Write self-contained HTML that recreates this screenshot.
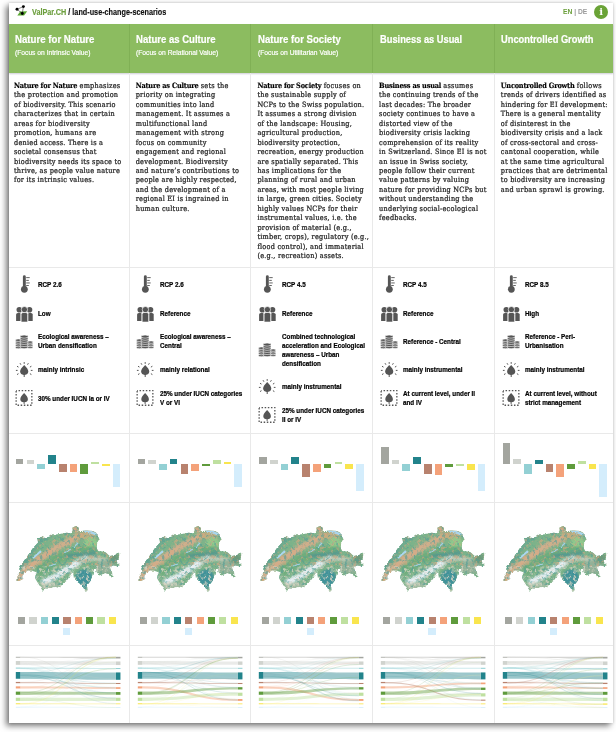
<!DOCTYPE html>
<html lang="en"><head><meta charset="utf-8"><title>ValPar.CH / land-use-change-scenarios</title>
<style>
html,body{margin:0;padding:0;background:#fff;}
body{width:616px;height:732px;position:relative;overflow:hidden;font-family:"Liberation Sans",sans-serif;}
#card{position:absolute;left:8.8px;top:2.8px;width:604.2px;height:720.2px;background:#fff;box-shadow:-3px 3px 6px rgba(0,0,0,.5),0 0 3px rgba(0,0,0,.18);}
.abs{position:absolute}
#band{position:absolute;left:8.8px;top:23.8px;width:604.2px;height:48.8px;background:#8cbc60;box-shadow:0 1px 1.5px rgba(60,60,90,.25);}
.vline{position:absolute;width:1px;background:#e9e9e9;top:72.6px;height:650.4px}
.vlineg{position:absolute;width:1px;background:#80b055;top:23.8px;height:48.8px}
.hline{position:absolute;left:8.8px;width:604.2px;height:1px;background:#e9e9e9}
.sx{display:inline-block;transform-origin:0 50%;white-space:nowrap}
.hd{position:absolute;top:32.5px;color:#fff}
.hd .t{font-weight:bold;font-size:10.5px;line-height:13px;-webkit-text-stroke:.2px #fff}
.hd .s{font-size:7px;line-height:9px;margin-top:2.6px;-webkit-text-stroke:.18px #fff}
.desc{position:absolute;top:80.9px;width:118px;font-family:"DejaVu Serif Condensed","DejaVu Serif","Liberation Serif",serif;font-stretch:condensed;font-size:7.3px;line-height:9.46px;color:#1a1a1a;letter-spacing:.22px;white-space:nowrap;-webkit-text-stroke:.22px #222}
.desc b{letter-spacing:-.2px;color:#000;-webkit-text-stroke:.15px #000}
.prm{position:absolute;top:275.2px;width:112px}
.row{display:flex;align-items:center;margin-bottom:9.4px;min-height:19px}
.ic{width:19px;height:19px;flex:none;display:block}
.row .tx{margin-left:4.7px;font-weight:bold;font-size:7px;line-height:9px;color:#000;white-space:nowrap;-webkit-text-stroke:.22px #000}
.bar{position:absolute;width:7.7px}
.sq{position:absolute;width:7.2px;height:7.2px}
</style></head><body>
<div id="card"></div>
<svg width="0" height="0" style="position:absolute"><defs>
<clipPath id="chclip"><polygon points="0.0,54.5 1.5,52.0 3.4,46.0 3.4,42.6 7.0,36.0 10.7,31.2 13.0,27.8 17.0,22.0 22.1,16.4 21.5,13.0 24.4,10.5 27.8,11.9 30.0,11.5 33.5,10.7 36.9,7.9 40.0,8.5 43.7,7.9 47.0,7.5 50.5,6.8 55.1,7.3 56.8,3.9 56.2,1.7 59.6,0.0 63.3,2.0 62.5,5.1 66.0,5.0 69.8,4.5 76.7,5.1 80.0,6.5 81.2,8.5 83.5,13.6 81.2,16.4 80.6,22.1 82.3,25.0 89.2,26.1 93.7,30.1 99.4,28.9 101.7,26.1 103.4,27.8 102.8,32.3 100.5,35.7 103.9,39.2 100.5,40.3 97.1,39.2 93.7,41.4 96.0,46.0 96.5,50.5 94.8,51.7 92.6,48.2 89.2,47.1 83.5,49.4 80.6,46.0 80.1,41.4 77.8,43.7 76.7,48.2 74.4,55.1 71.0,59.6 71.5,64.2 69.8,65.9 68.1,63.0 66.4,59.6 61.9,56.2 57.9,51.7 57.3,48.2 57.3,44.8 50.5,55.1 47.1,57.3 43.7,61.9 39.2,60.7 32.3,61.9 26.7,64.7 24.4,60.7 22.1,57.3 19.3,52.8 19.3,48.2 21.0,46.5 16.4,44.8 11.9,44.3 8.5,47.1 6.2,50.5 7.3,52.8 5.1,53.9 2.8,55.1"/></clipPath>
<filter id="bl" x="-20%" y="-20%" width="140%" height="140%"><feGaussianBlur stdDeviation="1.3"/></filter>
<filter id="bl2" x="-20%" y="-20%" width="140%" height="140%"><feGaussianBlur stdDeviation=".6"/></filter>
<filter id="rough" x="-8%" y="-8%" width="116%" height="116%" color-interpolation-filters="sRGB">
 <feTurbulence type="fractalNoise" baseFrequency=".38" numOctaves="2" seed="4" result="n"/>
 <feDisplacementMap in="SourceGraphic" in2="n" scale="3" xChannelSelector="R" yChannelSelector="G" result="d"/>
 <feGaussianBlur in="d" stdDeviation=".5"/>
</filter>
<filter id="speck" x="0" y="0" width="100%" height="100%" color-interpolation-filters="sRGB">
 <feTurbulence type="fractalNoise" baseFrequency=".3" numOctaves="2" seed="11" result="n"/>
 <feColorMatrix in="n" type="matrix" values="0 0 0 0 0  0 0 0 0 0  0 0 0 0 0  5 0 0 0 -2.55" result="a"/>
 <feComposite in="SourceGraphic" in2="a" operator="in"/>
</filter>
<filter id="speck2" x="0" y="0" width="100%" height="100%" color-interpolation-filters="sRGB">
 <feTurbulence type="fractalNoise" baseFrequency=".33" numOctaves="2" seed="23" result="n"/>
 <feColorMatrix in="n" type="matrix" values="0 0 0 0 0  0 0 0 0 0  0 0 0 0 0  0 5 0 0 -2.65" result="a"/>
 <feComposite in="SourceGraphic" in2="a" operator="in"/>
</filter>
<g id="chmap">
 <g filter="url(#rough)"><g clip-path="url(#chclip)">
  <rect x="-2" y="-2" width="110" height="72" fill="#7db38a"/>
  <g filter="url(#bl)">
   <path d="M-1,49 L20,13 L34,6" stroke="#69a890" stroke-width="10" fill="none"/>
   <path d="M2,53.5 L9.5,44 L24,32.5 L41,21 L58,13 L64,9" stroke="#dcae8c" stroke-width="6.5" fill="none" opacity=".88"/><ellipse cx="59.5" cy="3.5" rx="3" ry="2.5" fill="#d9a884"/>
   <path d="M60,10 L79,9" stroke="#c3ad80" stroke-width="7" fill="none"/>
   <ellipse cx="75" cy="17" rx="7" ry="6" fill="#8fc98c"/>
   <path d="M22,45 L40,33 L62,25 L80,25" stroke="#6fad7b" stroke-width="9" fill="none"/>
   <path d="M50,30 L80,27" stroke="#56998c" stroke-width="4" fill="none"/>
   <path d="M26,57 L40,50.5 L52,42.5 L63,36 L72,32" stroke="#e6eff3" stroke-width="6" fill="none"/>
   <path d="M62,36 L78,32 L92,35" stroke="#bccbb8" stroke-width="4.5" fill="none"/>
   <path d="M24,61 L44,59" stroke="#a5bda2" stroke-width="5" fill="none"/>
   <ellipse cx="68" cy="53" rx="8.5" ry="10" fill="#41929a"/>
   <ellipse cx="90" cy="41" rx="10" ry="7" fill="#93b198"/>
   <ellipse cx="98" cy="33" rx="5" ry="5" fill="#6d9a7c"/>
   <ellipse cx="3.5" cy="53.5" rx="4" ry="2.2" fill="#e0a77c"/>
  </g>
  <g filter="url(#speck)"><rect x="0" y="0" width="104" height="40" fill="#dba682" opacity=".6"/><rect x="0" y="40" width="104" height="26" fill="#d8d3c3" opacity=".8"/></g>
  <g filter="url(#speck2)"><rect x="0" y="0" width="104" height="66" fill="#559e96" opacity=".65"/></g>
  <g filter="url(#bl2)">
   <path d="M5.5,52.5 Q7,46 13,45 Q18,45 20.5,47.5 Q16,47.5 12,47.5 Q8.5,49 7.5,52.5Z" fill="#bfe3f6"/>
   <path d="M17,32 L25,25" stroke="#a9d6ee" stroke-width="2"/>
   <path d="M67,5.5 Q74,5 80.5,8.5" stroke="#a9d6ee" stroke-width="2.4" fill="none"/>
   <path d="M48,27 L55,23 M58,21 L62,17" stroke="#9fd0e4" stroke-width="1.2" fill="none"/>
   <path d="M33,40 L40,38" stroke="#9fd0e4" stroke-width="1.2"/>
  </g>
 </g></g>
</g></defs></svg>

<svg class="abs" style="left:14px;top:4.4px" width="16" height="14" viewBox="14 4 16 14"><polygon points="17.3,15.6 20.2,11.4 27.2,11.3 24.1,15.4" fill="#5aa832"/><g stroke="#222" stroke-width=".55"><line x1="17" y1="9.3" x2="23.4" y2="6.6"/><line x1="23.4" y1="6.6" x2="22.3" y2="13.5"/><line x1="17" y1="9.3" x2="22.3" y2="13.5"/></g><circle cx="17" cy="9.3" r="1.45"/><circle cx="23.4" cy="6.6" r="1.45"/><circle cx="22.3" cy="13.5" r="1.45"/></svg>
<div class="abs" style="left:32.3px;top:6.6px;font-weight:bold;font-size:8.7px;line-height:11px;color:#111;-webkit-text-stroke:.15px"><span class="sx" style="transform:scaleX(.835)"><span style="color:#6d9f3f">ValPar.CH</span> / land-use-change-scenarios</span></div>
<div class="abs" style="left:562.6px;top:6.4px;font-weight:bold;font-size:7.8px;line-height:11px;color:#9a9a9a"><span class="sx" style="transform:scaleX(.86)"><span style="color:#6a9f3a">EN</span> | DE</span></div>
<div class="abs" style="left:594px;top:4.9px;width:14.2px;height:14.2px;border-radius:50%;background:#6aa336;color:#fff;font-family:'DejaVu Serif','Liberation Serif',serif;font-weight:bold;font-size:10px;line-height:14.2px;text-align:center">i</div>
<div id="band"></div>
<div class="vlineg" style="left:128.7px"></div>
<div class="vline" style="left:128.7px"></div>
<div class="vlineg" style="left:250.4px"></div>
<div class="vline" style="left:250.4px"></div>
<div class="vlineg" style="left:372.1px"></div>
<div class="vline" style="left:372.1px"></div>
<div class="vlineg" style="left:493.8px"></div>
<div class="vline" style="left:493.8px"></div>
<div class="hline" style="top:267.1px"></div>
<div class="hline" style="top:433.4px"></div>
<div class="hline" style="top:501.9px"></div>
<div class="hline" style="top:644.8px"></div>
<div class="hd" style="left:14.6px"><div class="t"><span class="sx" style="transform:scaleX(0.92)">Nature for Nature</span></div><div class="s"><span class="sx" style="transform:scaleX(.957)">(Focus on Intrinsic Value)</span></div></div>
<div class="desc" style="left:14.0px"><b>Nature for Nature</b> emphasizes<br>the protection and promotion<br>of biodiversity. This scenario<br>characterizes that in certain<br>areas for biodiversity<br>promotion, humans are<br>denied access. There is a<br>societal consensus that<br>biodiversity needs its space to<br>thrive, as people value nature<br>for its intrinsic values.</div>
<div class="prm" style="left:14.7px">
<div class="row"><svg class="ic" viewBox="0 0 19 19"><g fill="#555"><rect x="7.9" y=".2" width="2.9" height="13" rx="1.45"/><circle cx="9.35" cy="14.3" r="3.4"/><rect x="11.2" y="2.2" width="3.5" height=".9"/><rect x="11.2" y="4.9" width="2.6" height=".9"/><rect x="11.2" y="7.5" width="3.5" height=".9"/><rect x="11.2" y="10.1" width="2.6" height=".9"/></g></svg><div class="tx"><span class="sx" style="transform:scaleX(.9)">RCP 2.6</span></div></div>
<div class="row"><svg class="ic" viewBox="0 0 19 19"><g fill="#555"><circle cx="4.3" cy="5.8" r="2.8"/><circle cx="14.5" cy="5.8" r="2.8"/><path d="M1.1 17V10.6Q1.1 8.9 2.8 8.9H4.6Q5.6 8.9 5.6 10V17Z"/><path d="M17.7 17V10.6Q17.7 8.9 16 8.9H14.2Q13.2 8.9 13.2 10V17Z"/><g stroke="#fff" stroke-width=".7"><circle cx="9.4" cy="5.6" r="3.15"/><path d="M6.1 18.1V10.4Q6.1 8.5 8 8.5H10.8Q12.7 8.5 12.7 10.4V18.1Z"/></g></g></svg><div class="tx"><span class="sx" style="transform:scaleX(.9)">Low</span></div></div>
<div class="row"><svg class="ic" viewBox="0 0 19 19"><g fill="#555" stroke="#fff" stroke-width=".6"><ellipse cx="3.3" cy="15.40" rx="2.9" ry="1.25"/><ellipse cx="3.3" cy="13.60" rx="2.9" ry="1.25"/><ellipse cx="3.3" cy="11.80" rx="2.9" ry="1.25"/><ellipse cx="3.3" cy="10.00" rx="2.9" ry="1.25"/><ellipse cx="3.3" cy="8.20" rx="2.9" ry="1.25"/><ellipse cx="15.1" cy="15.35" rx="2.8" ry="1.2"/><ellipse cx="15.1" cy="13.60" rx="2.8" ry="1.2"/><ellipse cx="15.1" cy="11.85" rx="2.8" ry="1.2"/><ellipse cx="15.1" cy="10.10" rx="2.8" ry="1.2"/><ellipse cx="9.1" cy="15.10" rx="3.9" ry="1.55"/><ellipse cx="9.1" cy="13.00" rx="3.9" ry="1.55"/><ellipse cx="9.1" cy="10.90" rx="3.9" ry="1.55"/><ellipse cx="9.1" cy="8.80" rx="3.9" ry="1.55"/><ellipse cx="9.1" cy="6.70" rx="3.9" ry="1.55"/><ellipse cx="9.1" cy="4.60" rx="3.9" ry="1.55"/></g></svg><div class="tx"><span class="sx" style="transform:scaleX(.9)">Ecological awareness –<br>Urban densification</span></div></div>
<div class="row"><svg class="ic" viewBox="0 0 19 19"><path d="M9.2 4.9C11.8 7.6 13.3 9.6 13.3 11.6C13.3 13.6 11.7 14.9 9.7 15V17H8.7V15C6.7 14.9 5.1 13.6 5.1 11.6C5.1 9.6 6.6 7.6 9.2 4.9Z" fill="#555"/><g stroke="#555" stroke-width="1"><line x1="3.48" y1="13.70" x2="2.01" y2="14.55"/><line x1="2.60" y1="10.40" x2="0.90" y2="10.40"/><line x1="3.48" y1="7.10" x2="2.01" y2="6.25"/><line x1="5.90" y1="4.68" x2="5.05" y2="3.21"/><line x1="9.20" y1="3.80" x2="9.20" y2="2.10"/><line x1="12.50" y1="4.68" x2="13.35" y2="3.21"/><line x1="14.92" y1="7.10" x2="16.39" y2="6.25"/><line x1="15.80" y1="10.40" x2="17.50" y2="10.40"/><line x1="14.92" y1="13.70" x2="16.39" y2="14.55"/></g></svg><div class="tx"><span class="sx" style="transform:scaleX(.9)">mainly intrinsic</span></div></div>
<div class="row"><svg class="ic" viewBox="0 0 19 19"><rect x="1.15" y="1.55" width="15.7" height="14.7" fill="none" stroke="#555" stroke-width="1.3" stroke-dasharray="1.5 1.64" stroke-dashoffset=".75"/><path d="M9.1 3.9C11.5 6.4 12.9 8.3 12.9 10.2C12.9 12 11.4 13.2 9.55 13.3V14.9H8.65V13.3C6.8 13.2 5.3 12 5.3 10.2C5.3 8.3 6.7 6.4 9.1 3.9Z" fill="#555"/></svg><div class="tx"><span class="sx" style="transform:scaleX(.9)">30% under IUCN Ia or IV</span></div></div>
</div>
<div class="bar" style="left:15.80px;top:458.8px;height:5.1px;background:#a3a59f"></div>
<div class="bar" style="left:26.56px;top:460.3px;height:3.6px;background:#d0d3ce"></div>
<div class="bar" style="left:37.32px;top:463.9px;height:5.1px;background:#93d0d4"></div>
<div class="bar" style="left:48.08px;top:455.3px;height:8.6px;background:#22838b"></div>
<div class="bar" style="left:58.84px;top:463.9px;height:8.4px;background:#b8826e"></div>
<div class="bar" style="left:69.60px;top:463.9px;height:8.2px;background:#f4a27a"></div>
<div class="bar" style="left:80.36px;top:463.9px;height:9.9px;background:#5f9b3c"></div>
<div class="bar" style="left:91.12px;top:462.1px;height:1.8px;background:#bfe0a0"></div>
<div class="bar" style="left:101.88px;top:463.9px;height:1.9px;background:#f9e54e"></div>
<div class="bar" style="left:112.64px;top:463.9px;height:23.4px;background:#d4edfc"></div>
<div class="sq" style="left:18.10px;top:617.1px;background:#a3a59f"></div>
<div class="sq" style="left:29.44px;top:617.1px;background:#d0d3ce"></div>
<div class="sq" style="left:40.78px;top:617.1px;background:#93d0d4"></div>
<div class="sq" style="left:52.12px;top:617.1px;background:#22838b"></div>
<div class="sq" style="left:63.46px;top:617.1px;background:#b8826e"></div>
<div class="sq" style="left:74.80px;top:617.1px;background:#f4a27a"></div>
<div class="sq" style="left:86.14px;top:617.1px;background:#5f9b3c"></div>
<div class="sq" style="left:97.48px;top:617.1px;background:#bfe0a0"></div>
<div class="sq" style="left:108.82px;top:617.1px;background:#f9e54e"></div>
<div class="sq" style="left:63.30px;top:628.1px;background:#d4edfc"></div>
<svg class="abs" style="left:16.3px;top:526.3px;overflow:visible" width="104" height="66" viewBox="0 0 104 66"><use href="#chmap"/></svg>
<svg class="abs" style="left:8.0px;top:645px" width="121" height="78" viewBox="0 0 121 78"><path d="M12.3,11.81C60.1,11.81 60.1,11.81 107.9,11.81L107.9,13.50C60.1,13.50 60.1,12.66 12.3,12.66Z" fill="#a3a59f" opacity="0.45"/><path d="M12.3,16.03C60.1,16.03 60.1,16.46 107.9,16.46L107.9,20.04C60.1,20.04 60.1,19.83 12.3,19.83Z" fill="#d0d3ce" opacity="0.45"/><path d="M12.3,22.57C60.1,22.57 60.1,23.00 107.9,23.00L107.9,24.05C60.1,24.05 60.1,23.63 12.3,23.63Z" fill="#93d0d4" opacity="0.45"/><path d="M12.3,27.00C60.1,27.00 60.1,27.43 107.9,27.43L107.9,34.81C60.1,34.81 60.1,33.76 12.3,33.76Z" fill="#22838b" opacity="0.45"/><path d="M12.3,36.92C60.1,36.92 60.1,37.97 107.9,37.97L107.9,39.03C60.1,39.03 60.1,38.19 12.3,38.19Z" fill="#b8826e" opacity="0.45"/><path d="M12.3,41.35C60.1,41.35 60.1,42.19 107.9,42.19L107.9,43.88C60.1,43.88 60.1,43.46 12.3,43.46Z" fill="#f4a27a" opacity="0.45"/><path d="M12.3,46.62C60.1,46.62 60.1,47.05 107.9,47.05L107.9,49.79C60.1,49.79 60.1,49.79 12.3,49.79Z" fill="#5f9b3c" opacity="0.45"/><path d="M12.3,52.74C60.1,52.74 60.1,52.74 107.9,52.74L107.9,55.91C60.1,55.91 60.1,55.91 12.3,55.91Z" fill="#bfe0a0" opacity="0.45"/><path d="M12.3,58.23C60.1,58.23 60.1,58.44 107.9,58.44L107.9,59.14C60.1,59.14 60.1,59.28 12.3,59.28Z" fill="#f9e54e" opacity="0.45"/><path d="M12.3,61.81C60.1,61.81 60.1,62.03 107.9,62.03L107.9,62.73C60.1,62.73 60.1,62.66 12.3,62.66Z" fill="#d4edfc" opacity="0.45"/><path d="M12.3,19.32C60.1,19.32 60.1,12.27 107.9,12.27" stroke="#d0d3ce" stroke-width="0.36" fill="none" opacity=".3"/><path d="M12.3,23.27C60.1,23.27 60.1,13.41 107.9,13.41" stroke="#93d0d4" stroke-width="0.31" fill="none" opacity=".3"/><path d="M12.3,28.19C60.1,28.19 60.1,13.12 107.9,13.12" stroke="#22838b" stroke-width="0.36" fill="none" opacity=".3"/><path d="M12.3,37.20C60.1,37.20 60.1,12.73 107.9,12.73" stroke="#b8826e" stroke-width="0.27" fill="none" opacity=".3"/><path d="M12.3,43.24C60.1,43.24 60.1,12.22 107.9,12.22" stroke="#f4a27a" stroke-width="0.34" fill="none" opacity=".3"/><path d="M12.3,47.91C60.1,47.91 60.1,12.08 107.9,12.08" stroke="#5f9b3c" stroke-width="0.57" fill="none" opacity=".3"/><path d="M12.3,54.31C60.1,54.31 60.1,13.32 107.9,13.32" stroke="#bfe0a0" stroke-width="0.51" fill="none" opacity=".3"/><path d="M12.3,59.27C60.1,59.27 60.1,12.27 107.9,12.27" stroke="#f9e54e" stroke-width="0.42" fill="none" opacity=".3"/><path d="M12.3,30.38C60.1,30.38 60.1,38.15 107.9,38.15" stroke="#22838b" stroke-width="0.49" fill="none" opacity=".3"/><path d="M12.3,33.07C60.1,33.07 60.1,42.42 107.9,42.42" stroke="#22838b" stroke-width="0.44" fill="none" opacity=".3"/><path d="M12.3,29.36C60.1,29.36 60.1,48.11 107.9,48.11" stroke="#22838b" stroke-width="0.50" fill="none" opacity=".3"/><path d="M12.3,30.78C60.1,30.78 60.1,53.05 107.9,53.05" stroke="#22838b" stroke-width="0.59" fill="none" opacity=".3"/><path d="M12.3,23.45C60.1,23.45 60.1,43.67 107.9,43.67" stroke="#93d0d4" stroke-width="0.40" fill="none" opacity=".3"/><path d="M12.3,22.64C60.1,22.64 60.1,48.01 107.9,48.01" stroke="#93d0d4" stroke-width="0.30" fill="none" opacity=".3"/><path d="M12.3,23.22C60.1,23.22 60.1,55.38 107.9,55.38" stroke="#93d0d4" stroke-width="0.53" fill="none" opacity=".3"/><path d="M12.3,16.56C60.1,16.56 60.1,33.79 107.9,33.79" stroke="#d0d3ce" stroke-width="0.52" fill="none" opacity=".3"/><path d="M12.3,19.54C60.1,19.54 60.1,47.99 107.9,47.99" stroke="#d0d3ce" stroke-width="0.34" fill="none" opacity=".3"/><path d="M12.3,19.03C60.1,19.03 60.1,54.19 107.9,54.19" stroke="#d0d3ce" stroke-width="0.36" fill="none" opacity=".3"/><path d="M12.3,18.01C60.1,18.01 60.1,58.77 107.9,58.77" stroke="#d0d3ce" stroke-width="0.51" fill="none" opacity=".3"/><path d="M12.3,58.57C60.1,58.57 60.1,11.87 107.9,11.87" stroke="#f9e54e" stroke-width="0.32" fill="none" opacity=".3"/><path d="M12.3,55.61C60.1,55.61 60.1,38.58 107.9,38.58" stroke="#bfe0a0" stroke-width="0.47" fill="none" opacity=".3"/><path d="M12.3,52.82C60.1,52.82 60.1,16.87 107.9,16.87" stroke="#bfe0a0" stroke-width="0.35" fill="none" opacity=".3"/><path d="M12.3,55.44C60.1,55.44 60.1,23.26 107.9,23.26" stroke="#bfe0a0" stroke-width="0.35" fill="none" opacity=".3"/><path d="M12.3,61.89C60.1,61.89 60.1,18.60 107.9,18.60" stroke="#d4edfc" stroke-width="0.44" fill="none" opacity=".3"/><path d="M12.3,23.61C60.1,23.61 60.1,58.51 107.9,58.51" stroke="#93d0d4" stroke-width="0.54" fill="none" opacity=".3"/><path d="M12.3,11.95C60.1,11.95 60.1,54.25 107.9,54.25" stroke="#a3a59f" stroke-width="0.38" fill="none" opacity=".3"/><path d="M12.3,54.01C60.1,54.01 60.1,62.52 107.9,62.52" stroke="#bfe0a0" stroke-width="0.60" fill="none" opacity=".3"/><path d="M12.3,61.97C60.1,61.97 60.1,23.62 107.9,23.62" stroke="#d4edfc" stroke-width="0.40" fill="none" opacity=".3"/><path d="M12.3,62.65C60.1,62.65 60.1,43.35 107.9,43.35" stroke="#d4edfc" stroke-width="0.36" fill="none" opacity=".3"/><path d="M12.3,49.67C60.1,49.67 60.1,23.91 107.9,23.91" stroke="#5f9b3c" stroke-width="0.51" fill="none" opacity=".3"/><rect x="7.81" y="11.81" width="4.5" height="0.84" fill="#a3a59f"/><rect x="107.95" y="11.81" width="4.5" height="1.69" fill="#a3a59f"/><rect x="7.81" y="16.03" width="4.5" height="3.80" fill="#d0d3ce"/><rect x="107.95" y="16.46" width="4.5" height="3.59" fill="#d0d3ce"/><rect x="7.81" y="22.57" width="4.5" height="1.05" fill="#93d0d4"/><rect x="107.95" y="23.00" width="4.5" height="1.05" fill="#93d0d4"/><rect x="7.81" y="27.00" width="4.5" height="6.75" fill="#22838b"/><rect x="107.95" y="27.43" width="4.5" height="7.38" fill="#22838b"/><rect x="7.81" y="36.92" width="4.5" height="1.27" fill="#b8826e"/><rect x="107.95" y="37.97" width="4.5" height="1.05" fill="#b8826e"/><rect x="7.81" y="41.35" width="4.5" height="2.11" fill="#f4a27a"/><rect x="107.95" y="42.19" width="4.5" height="1.69" fill="#f4a27a"/><rect x="7.81" y="46.62" width="4.5" height="3.16" fill="#5f9b3c"/><rect x="107.95" y="47.05" width="4.5" height="2.74" fill="#5f9b3c"/><rect x="7.81" y="52.74" width="4.5" height="3.16" fill="#bfe0a0"/><rect x="107.95" y="52.74" width="4.5" height="3.16" fill="#bfe0a0"/><rect x="7.81" y="58.23" width="4.5" height="1.05" fill="#f9e54e"/><rect x="107.95" y="58.44" width="4.5" height="0.80" fill="#f9e54e"/><rect x="7.81" y="61.81" width="4.5" height="0.84" fill="#d4edfc"/><rect x="107.95" y="62.03" width="4.5" height="0.80" fill="#d4edfc"/></svg>
<div class="hd" style="left:136.3px"><div class="t"><span class="sx" style="transform:scaleX(0.91)">Nature as Culture</span></div><div class="s"><span class="sx" style="transform:scaleX(.957)">(Focus on Relational Value)</span></div></div>
<div class="desc" style="left:135.7px"><b>Nature as Culture</b> sets the<br>priority on integrating<br>communities into land<br>management. It assumes a<br>multifunctional land<br>management with strong<br>focus on community<br>engagement and regional<br>development. Biodiversity<br>and nature’s contributions to<br>people are highly respected,<br>and the development of a<br>regional EI is ingrained in<br>human culture.</div>
<div class="prm" style="left:136.4px">
<div class="row"><svg class="ic" viewBox="0 0 19 19"><g fill="#555"><rect x="7.9" y=".2" width="2.9" height="13" rx="1.45"/><circle cx="9.35" cy="14.3" r="3.4"/><rect x="11.2" y="2.2" width="3.5" height=".9"/><rect x="11.2" y="4.9" width="2.6" height=".9"/><rect x="11.2" y="7.5" width="3.5" height=".9"/><rect x="11.2" y="10.1" width="2.6" height=".9"/></g></svg><div class="tx"><span class="sx" style="transform:scaleX(.9)">RCP 2.6</span></div></div>
<div class="row"><svg class="ic" viewBox="0 0 19 19"><g fill="#555"><circle cx="4.3" cy="5.8" r="2.8"/><circle cx="14.5" cy="5.8" r="2.8"/><path d="M1.1 17V10.6Q1.1 8.9 2.8 8.9H4.6Q5.6 8.9 5.6 10V17Z"/><path d="M17.7 17V10.6Q17.7 8.9 16 8.9H14.2Q13.2 8.9 13.2 10V17Z"/><g stroke="#fff" stroke-width=".7"><circle cx="9.4" cy="5.6" r="3.15"/><path d="M6.1 18.1V10.4Q6.1 8.5 8 8.5H10.8Q12.7 8.5 12.7 10.4V18.1Z"/></g></g></svg><div class="tx"><span class="sx" style="transform:scaleX(.9)">Reference</span></div></div>
<div class="row"><svg class="ic" viewBox="0 0 19 19"><g fill="#555" stroke="#fff" stroke-width=".6"><ellipse cx="3.3" cy="15.40" rx="2.9" ry="1.25"/><ellipse cx="3.3" cy="13.60" rx="2.9" ry="1.25"/><ellipse cx="3.3" cy="11.80" rx="2.9" ry="1.25"/><ellipse cx="3.3" cy="10.00" rx="2.9" ry="1.25"/><ellipse cx="3.3" cy="8.20" rx="2.9" ry="1.25"/><ellipse cx="15.1" cy="15.35" rx="2.8" ry="1.2"/><ellipse cx="15.1" cy="13.60" rx="2.8" ry="1.2"/><ellipse cx="15.1" cy="11.85" rx="2.8" ry="1.2"/><ellipse cx="15.1" cy="10.10" rx="2.8" ry="1.2"/><ellipse cx="9.1" cy="15.10" rx="3.9" ry="1.55"/><ellipse cx="9.1" cy="13.00" rx="3.9" ry="1.55"/><ellipse cx="9.1" cy="10.90" rx="3.9" ry="1.55"/><ellipse cx="9.1" cy="8.80" rx="3.9" ry="1.55"/><ellipse cx="9.1" cy="6.70" rx="3.9" ry="1.55"/><ellipse cx="9.1" cy="4.60" rx="3.9" ry="1.55"/></g></svg><div class="tx"><span class="sx" style="transform:scaleX(.9)">Ecological awareness –<br>Central</span></div></div>
<div class="row"><svg class="ic" viewBox="0 0 19 19"><path d="M9.2 4.9C11.8 7.6 13.3 9.6 13.3 11.6C13.3 13.6 11.7 14.9 9.7 15V17H8.7V15C6.7 14.9 5.1 13.6 5.1 11.6C5.1 9.6 6.6 7.6 9.2 4.9Z" fill="#555"/><g stroke="#555" stroke-width="1"><line x1="3.48" y1="13.70" x2="2.01" y2="14.55"/><line x1="2.60" y1="10.40" x2="0.90" y2="10.40"/><line x1="3.48" y1="7.10" x2="2.01" y2="6.25"/><line x1="5.90" y1="4.68" x2="5.05" y2="3.21"/><line x1="9.20" y1="3.80" x2="9.20" y2="2.10"/><line x1="12.50" y1="4.68" x2="13.35" y2="3.21"/><line x1="14.92" y1="7.10" x2="16.39" y2="6.25"/><line x1="15.80" y1="10.40" x2="17.50" y2="10.40"/><line x1="14.92" y1="13.70" x2="16.39" y2="14.55"/></g></svg><div class="tx"><span class="sx" style="transform:scaleX(.9)">mainly relational</span></div></div>
<div class="row"><svg class="ic" viewBox="0 0 19 19"><rect x="1.15" y="1.55" width="15.7" height="14.7" fill="none" stroke="#555" stroke-width="1.3" stroke-dasharray="1.5 1.64" stroke-dashoffset=".75"/><path d="M9.1 3.9C11.5 6.4 12.9 8.3 12.9 10.2C12.9 12 11.4 13.2 9.55 13.3V14.9H8.65V13.3C6.8 13.2 5.3 12 5.3 10.2C5.3 8.3 6.7 6.4 9.1 3.9Z" fill="#555"/></svg><div class="tx"><span class="sx" style="transform:scaleX(.9)">25% under IUCN categories<br>V or VI</span></div></div>
</div>
<div class="bar" style="left:137.50px;top:459.3px;height:4.6px;background:#a3a59f"></div>
<div class="bar" style="left:148.26px;top:460.3px;height:3.6px;background:#d0d3ce"></div>
<div class="bar" style="left:159.02px;top:463.9px;height:6.5px;background:#93d0d4"></div>
<div class="bar" style="left:169.78px;top:458.8px;height:5.1px;background:#22838b"></div>
<div class="bar" style="left:180.54px;top:463.9px;height:10.1px;background:#b8826e"></div>
<div class="bar" style="left:191.30px;top:463.9px;height:7.4px;background:#f4a27a"></div>
<div class="bar" style="left:202.06px;top:463.9px;height:2.3px;background:#5f9b3c"></div>
<div class="bar" style="left:212.82px;top:460.3px;height:3.6px;background:#bfe0a0"></div>
<div class="bar" style="left:223.58px;top:462.0px;height:1.9px;background:#f9e54e"></div>
<div class="bar" style="left:234.34px;top:463.9px;height:23.4px;background:#d4edfc"></div>
<div class="sq" style="left:139.80px;top:617.1px;background:#a3a59f"></div>
<div class="sq" style="left:151.14px;top:617.1px;background:#d0d3ce"></div>
<div class="sq" style="left:162.48px;top:617.1px;background:#93d0d4"></div>
<div class="sq" style="left:173.82px;top:617.1px;background:#22838b"></div>
<div class="sq" style="left:185.16px;top:617.1px;background:#b8826e"></div>
<div class="sq" style="left:196.50px;top:617.1px;background:#f4a27a"></div>
<div class="sq" style="left:207.84px;top:617.1px;background:#5f9b3c"></div>
<div class="sq" style="left:219.18px;top:617.1px;background:#bfe0a0"></div>
<div class="sq" style="left:230.52px;top:617.1px;background:#f9e54e"></div>
<div class="sq" style="left:185.00px;top:628.1px;background:#d4edfc"></div>
<svg class="abs" style="left:138.0px;top:526.3px;overflow:visible" width="104" height="66" viewBox="0 0 104 66"><use href="#chmap"/></svg>
<svg class="abs" style="left:129.7px;top:645px" width="121" height="78" viewBox="0 0 121 78"><path d="M12.3,11.81C60.1,11.81 60.1,11.81 107.9,11.81L107.9,13.29C60.1,13.29 60.1,12.66 12.3,12.66Z" fill="#a3a59f" opacity="0.45"/><path d="M12.3,16.03C60.1,16.03 60.1,16.46 107.9,16.46L107.9,19.83C60.1,19.83 60.1,19.83 12.3,19.83Z" fill="#d0d3ce" opacity="0.45"/><path d="M12.3,22.57C60.1,22.57 60.1,22.78 107.9,22.78L107.9,23.84C60.1,23.84 60.1,23.63 12.3,23.63Z" fill="#93d0d4" opacity="0.45"/><path d="M12.3,27.00C60.1,27.00 60.1,27.43 107.9,27.43L107.9,34.39C60.1,34.39 60.1,33.76 12.3,33.76Z" fill="#22838b" opacity="0.45"/><path d="M12.3,36.92C60.1,36.92 60.1,37.97 107.9,37.97L107.9,39.03C60.1,39.03 60.1,38.19 12.3,38.19Z" fill="#b8826e" opacity="0.45"/><path d="M12.3,41.35C60.1,41.35 60.1,54.01 107.9,54.01L107.9,55.91C60.1,55.91 60.1,43.46 12.3,43.46Z" fill="#f4a27a" opacity="0.45"/><path d="M12.3,46.62C60.1,46.62 60.1,42.19 107.9,42.19L107.9,44.51C60.1,44.51 60.1,49.79 12.3,49.79Z" fill="#5f9b3c" opacity="0.45"/><path d="M12.3,52.74C60.1,52.74 60.1,47.68 107.9,47.68L107.9,50.84C60.1,50.84 60.1,55.91 12.3,55.91Z" fill="#bfe0a0" opacity="0.45"/><path d="M12.3,58.23C60.1,58.23 60.1,58.44 107.9,58.44L107.9,59.28C60.1,59.28 60.1,59.28 12.3,59.28Z" fill="#f9e54e" opacity="0.45"/><path d="M12.3,61.81C60.1,61.81 60.1,62.03 107.9,62.03L107.9,62.73C60.1,62.73 60.1,62.66 12.3,62.66Z" fill="#d4edfc" opacity="0.45"/><path d="M12.3,16.54C60.1,16.54 60.1,12.86 107.9,12.86" stroke="#d0d3ce" stroke-width="0.25" fill="none" opacity=".3"/><path d="M12.3,23.06C60.1,23.06 60.1,12.53 107.9,12.53" stroke="#93d0d4" stroke-width="0.49" fill="none" opacity=".3"/><path d="M12.3,28.28C60.1,28.28 60.1,12.57 107.9,12.57" stroke="#22838b" stroke-width="0.59" fill="none" opacity=".3"/><path d="M12.3,37.89C60.1,37.89 60.1,12.43 107.9,12.43" stroke="#b8826e" stroke-width="0.38" fill="none" opacity=".3"/><path d="M12.3,42.18C60.1,42.18 60.1,13.28 107.9,13.28" stroke="#f4a27a" stroke-width="0.25" fill="none" opacity=".3"/><path d="M12.3,49.36C60.1,49.36 60.1,13.25 107.9,13.25" stroke="#5f9b3c" stroke-width="0.46" fill="none" opacity=".3"/><path d="M12.3,55.90C60.1,55.90 60.1,11.84 107.9,11.84" stroke="#bfe0a0" stroke-width="0.32" fill="none" opacity=".3"/><path d="M12.3,59.28C60.1,59.28 60.1,12.70 107.9,12.70" stroke="#f9e54e" stroke-width="0.45" fill="none" opacity=".3"/><path d="M12.3,27.29C60.1,27.29 60.1,38.13 107.9,38.13" stroke="#22838b" stroke-width="0.40" fill="none" opacity=".3"/><path d="M12.3,27.07C60.1,27.07 60.1,55.17 107.9,55.17" stroke="#22838b" stroke-width="0.54" fill="none" opacity=".3"/><path d="M12.3,29.61C60.1,29.61 60.1,42.37 107.9,42.37" stroke="#22838b" stroke-width="0.32" fill="none" opacity=".3"/><path d="M12.3,31.30C60.1,31.30 60.1,47.73 107.9,47.73" stroke="#22838b" stroke-width="0.38" fill="none" opacity=".3"/><path d="M12.3,23.23C60.1,23.23 60.1,54.25 107.9,54.25" stroke="#93d0d4" stroke-width="0.46" fill="none" opacity=".3"/><path d="M12.3,23.45C60.1,23.45 60.1,42.51 107.9,42.51" stroke="#93d0d4" stroke-width="0.39" fill="none" opacity=".3"/><path d="M12.3,23.24C60.1,23.24 60.1,48.66 107.9,48.66" stroke="#93d0d4" stroke-width="0.33" fill="none" opacity=".3"/><path d="M12.3,18.35C60.1,18.35 60.1,32.48 107.9,32.48" stroke="#d0d3ce" stroke-width="0.31" fill="none" opacity=".3"/><path d="M12.3,18.42C60.1,18.42 60.1,43.48 107.9,43.48" stroke="#d0d3ce" stroke-width="0.49" fill="none" opacity=".3"/><path d="M12.3,17.51C60.1,17.51 60.1,49.21 107.9,49.21" stroke="#d0d3ce" stroke-width="0.28" fill="none" opacity=".3"/><path d="M12.3,52.89C60.1,52.89 60.1,28.19 107.9,28.19" stroke="#bfe0a0" stroke-width="0.43" fill="none" opacity=".3"/><path d="M12.3,17.00C60.1,17.00 60.1,23.57 107.9,23.57" stroke="#d0d3ce" stroke-width="0.39" fill="none" opacity=".3"/><path d="M12.3,37.45C60.1,37.45 60.1,33.73 107.9,33.73" stroke="#b8826e" stroke-width="0.42" fill="none" opacity=".3"/><path d="M12.3,48.27C60.1,48.27 60.1,13.19 107.9,13.19" stroke="#5f9b3c" stroke-width="0.59" fill="none" opacity=".3"/><path d="M12.3,61.92C60.1,61.92 60.1,12.52 107.9,12.52" stroke="#d4edfc" stroke-width="0.48" fill="none" opacity=".3"/><path d="M12.3,58.88C60.1,58.88 60.1,47.91 107.9,47.91" stroke="#f9e54e" stroke-width="0.32" fill="none" opacity=".3"/><path d="M12.3,38.08C60.1,38.08 60.1,12.92 107.9,12.92" stroke="#b8826e" stroke-width="0.27" fill="none" opacity=".3"/><path d="M12.3,58.66C60.1,58.66 60.1,62.18 107.9,62.18" stroke="#f9e54e" stroke-width="0.27" fill="none" opacity=".3"/><rect x="7.81" y="11.81" width="4.5" height="0.84" fill="#a3a59f"/><rect x="107.95" y="11.81" width="4.5" height="1.48" fill="#a3a59f"/><rect x="7.81" y="16.03" width="4.5" height="3.80" fill="#d0d3ce"/><rect x="107.95" y="16.46" width="4.5" height="3.38" fill="#d0d3ce"/><rect x="7.81" y="22.57" width="4.5" height="1.05" fill="#93d0d4"/><rect x="107.95" y="22.78" width="4.5" height="1.05" fill="#93d0d4"/><rect x="7.81" y="27.00" width="4.5" height="6.75" fill="#22838b"/><rect x="107.95" y="27.43" width="4.5" height="6.96" fill="#22838b"/><rect x="7.81" y="36.92" width="4.5" height="1.27" fill="#b8826e"/><rect x="107.95" y="37.97" width="4.5" height="1.05" fill="#b8826e"/><rect x="7.81" y="41.35" width="4.5" height="2.11" fill="#f4a27a"/><rect x="107.95" y="54.01" width="4.5" height="1.90" fill="#f4a27a"/><rect x="7.81" y="46.62" width="4.5" height="3.16" fill="#5f9b3c"/><rect x="107.95" y="42.19" width="4.5" height="2.32" fill="#5f9b3c"/><rect x="7.81" y="52.74" width="4.5" height="3.16" fill="#bfe0a0"/><rect x="107.95" y="47.68" width="4.5" height="3.16" fill="#bfe0a0"/><rect x="7.81" y="58.23" width="4.5" height="1.05" fill="#f9e54e"/><rect x="107.95" y="58.44" width="4.5" height="0.84" fill="#f9e54e"/><rect x="7.81" y="61.81" width="4.5" height="0.84" fill="#d4edfc"/><rect x="107.95" y="62.03" width="4.5" height="0.80" fill="#d4edfc"/></svg>
<div class="hd" style="left:258.0px"><div class="t"><span class="sx" style="transform:scaleX(0.915)">Nature for Society</span></div><div class="s"><span class="sx" style="transform:scaleX(.957)">(Focus on Utilitarian Value)</span></div></div>
<div class="desc" style="left:257.4px"><b>Nature for Society</b> focuses on<br>the sustainable supply of<br>NCPs to the Swiss population.<br>It assumes a strong division<br>of the landscape: Housing,<br>agricultural production,<br>biodiversity protection,<br>recreation, energy production<br>are spatially separated. This<br>has implications for the<br>planning of rural and urban<br>areas, with most people living<br>in large, green cities. Society<br>highly values NCPs for their<br>instrumental values, i.e. the<br>provision of material (e.g.,<br>timber, crops), regulatory (e.g.,<br>flood control), and immaterial<br>(e.g., recreation) assets.</div>
<div class="prm" style="left:258.1px">
<div class="row"><svg class="ic" viewBox="0 0 19 19"><g fill="#555"><rect x="7.9" y=".2" width="2.9" height="13" rx="1.45"/><circle cx="9.35" cy="14.3" r="3.4"/><rect x="11.2" y="2.2" width="3.5" height=".9"/><rect x="11.2" y="4.9" width="2.6" height=".9"/><rect x="11.2" y="7.5" width="3.5" height=".9"/><rect x="11.2" y="10.1" width="2.6" height=".9"/></g></svg><div class="tx"><span class="sx" style="transform:scaleX(.9)">RCP 4.5</span></div></div>
<div class="row"><svg class="ic" viewBox="0 0 19 19"><g fill="#555"><circle cx="4.3" cy="5.8" r="2.8"/><circle cx="14.5" cy="5.8" r="2.8"/><path d="M1.1 17V10.6Q1.1 8.9 2.8 8.9H4.6Q5.6 8.9 5.6 10V17Z"/><path d="M17.7 17V10.6Q17.7 8.9 16 8.9H14.2Q13.2 8.9 13.2 10V17Z"/><g stroke="#fff" stroke-width=".7"><circle cx="9.4" cy="5.6" r="3.15"/><path d="M6.1 18.1V10.4Q6.1 8.5 8 8.5H10.8Q12.7 8.5 12.7 10.4V18.1Z"/></g></g></svg><div class="tx"><span class="sx" style="transform:scaleX(.9)">Reference</span></div></div>
<div class="row"><svg class="ic" viewBox="0 0 19 19"><g fill="#555" stroke="#fff" stroke-width=".6"><ellipse cx="3.3" cy="15.40" rx="2.9" ry="1.25"/><ellipse cx="3.3" cy="13.60" rx="2.9" ry="1.25"/><ellipse cx="3.3" cy="11.80" rx="2.9" ry="1.25"/><ellipse cx="3.3" cy="10.00" rx="2.9" ry="1.25"/><ellipse cx="3.3" cy="8.20" rx="2.9" ry="1.25"/><ellipse cx="15.1" cy="15.35" rx="2.8" ry="1.2"/><ellipse cx="15.1" cy="13.60" rx="2.8" ry="1.2"/><ellipse cx="15.1" cy="11.85" rx="2.8" ry="1.2"/><ellipse cx="15.1" cy="10.10" rx="2.8" ry="1.2"/><ellipse cx="9.1" cy="15.10" rx="3.9" ry="1.55"/><ellipse cx="9.1" cy="13.00" rx="3.9" ry="1.55"/><ellipse cx="9.1" cy="10.90" rx="3.9" ry="1.55"/><ellipse cx="9.1" cy="8.80" rx="3.9" ry="1.55"/><ellipse cx="9.1" cy="6.70" rx="3.9" ry="1.55"/><ellipse cx="9.1" cy="4.60" rx="3.9" ry="1.55"/></g></svg><div class="tx"><span class="sx" style="transform:scaleX(.9)">Combined technological<br>acceleration and Ecological<br>awareness – Urban<br>densification</span></div></div>
<div class="row"><svg class="ic" viewBox="0 0 19 19"><path d="M9.2 4.9C11.8 7.6 13.3 9.6 13.3 11.6C13.3 13.6 11.7 14.9 9.7 15V17H8.7V15C6.7 14.9 5.1 13.6 5.1 11.6C5.1 9.6 6.6 7.6 9.2 4.9Z" fill="#555"/><g stroke="#555" stroke-width="1"><line x1="3.48" y1="13.70" x2="2.01" y2="14.55"/><line x1="2.60" y1="10.40" x2="0.90" y2="10.40"/><line x1="3.48" y1="7.10" x2="2.01" y2="6.25"/><line x1="5.90" y1="4.68" x2="5.05" y2="3.21"/><line x1="9.20" y1="3.80" x2="9.20" y2="2.10"/><line x1="12.50" y1="4.68" x2="13.35" y2="3.21"/><line x1="14.92" y1="7.10" x2="16.39" y2="6.25"/><line x1="15.80" y1="10.40" x2="17.50" y2="10.40"/><line x1="14.92" y1="13.70" x2="16.39" y2="14.55"/></g></svg><div class="tx"><span class="sx" style="transform:scaleX(.9)">mainly instrumental</span></div></div>
<div class="row"><svg class="ic" viewBox="0 0 19 19"><rect x="1.15" y="1.55" width="15.7" height="14.7" fill="none" stroke="#555" stroke-width="1.3" stroke-dasharray="1.5 1.64" stroke-dashoffset=".75"/><path d="M9.1 3.9C11.5 6.4 12.9 8.3 12.9 10.2C12.9 12 11.4 13.2 9.55 13.3V14.9H8.65V13.3C6.8 13.2 5.3 12 5.3 10.2C5.3 8.3 6.7 6.4 9.1 3.9Z" fill="#555"/></svg><div class="tx"><span class="sx" style="transform:scaleX(.9)">25% under IUCN categories<br>II or IV</span></div></div>
</div>
<div class="bar" style="left:259.20px;top:457.1px;height:6.8px;background:#a3a59f"></div>
<div class="bar" style="left:269.96px;top:459.9px;height:4.0px;background:#d0d3ce"></div>
<div class="bar" style="left:280.72px;top:463.9px;height:6.3px;background:#93d0d4"></div>
<div class="bar" style="left:291.48px;top:456.5px;height:7.4px;background:#22838b"></div>
<div class="bar" style="left:302.24px;top:463.9px;height:12.7px;background:#b8826e"></div>
<div class="bar" style="left:313.00px;top:463.9px;height:8.6px;background:#f4a27a"></div>
<div class="bar" style="left:323.76px;top:463.9px;height:3.8px;background:#5f9b3c"></div>
<div class="bar" style="left:334.52px;top:462.1px;height:1.8px;background:#bfe0a0"></div>
<div class="bar" style="left:345.28px;top:463.9px;height:4.9px;background:#f9e54e"></div>
<div class="bar" style="left:356.04px;top:463.9px;height:27.4px;background:#d4edfc"></div>
<div class="sq" style="left:261.50px;top:617.1px;background:#a3a59f"></div>
<div class="sq" style="left:272.84px;top:617.1px;background:#d0d3ce"></div>
<div class="sq" style="left:284.18px;top:617.1px;background:#93d0d4"></div>
<div class="sq" style="left:295.52px;top:617.1px;background:#22838b"></div>
<div class="sq" style="left:306.86px;top:617.1px;background:#b8826e"></div>
<div class="sq" style="left:318.20px;top:617.1px;background:#f4a27a"></div>
<div class="sq" style="left:329.54px;top:617.1px;background:#5f9b3c"></div>
<div class="sq" style="left:340.88px;top:617.1px;background:#bfe0a0"></div>
<div class="sq" style="left:352.22px;top:617.1px;background:#f9e54e"></div>
<div class="sq" style="left:306.70px;top:628.1px;background:#d4edfc"></div>
<svg class="abs" style="left:259.7px;top:526.3px;overflow:visible" width="104" height="66" viewBox="0 0 104 66"><use href="#chmap"/></svg>
<svg class="abs" style="left:251.4px;top:645px" width="121" height="78" viewBox="0 0 121 78"><path d="M12.3,11.81C60.1,11.81 60.1,11.81 107.9,11.81L107.9,13.29C60.1,13.29 60.1,12.66 12.3,12.66Z" fill="#a3a59f" opacity="0.45"/><path d="M12.3,16.03C60.1,16.03 60.1,16.46 107.9,16.46L107.9,19.83C60.1,19.83 60.1,19.83 12.3,19.83Z" fill="#d0d3ce" opacity="0.45"/><path d="M12.3,22.57C60.1,22.57 60.1,22.78 107.9,22.78L107.9,23.84C60.1,23.84 60.1,23.63 12.3,23.63Z" fill="#93d0d4" opacity="0.45"/><path d="M12.3,27.00C60.1,27.00 60.1,27.43 107.9,27.43L107.9,34.39C60.1,34.39 60.1,33.76 12.3,33.76Z" fill="#22838b" opacity="0.45"/><path d="M12.3,36.92C60.1,36.92 60.1,37.97 107.9,37.97L107.9,39.03C60.1,39.03 60.1,38.19 12.3,38.19Z" fill="#b8826e" opacity="0.45"/><path d="M12.3,41.35C60.1,41.35 60.1,54.01 107.9,54.01L107.9,55.91C60.1,55.91 60.1,43.46 12.3,43.46Z" fill="#f4a27a" opacity="0.45"/><path d="M12.3,46.62C60.1,46.62 60.1,42.19 107.9,42.19L107.9,44.51C60.1,44.51 60.1,49.79 12.3,49.79Z" fill="#5f9b3c" opacity="0.45"/><path d="M12.3,52.74C60.1,52.74 60.1,47.68 107.9,47.68L107.9,50.84C60.1,50.84 60.1,55.91 12.3,55.91Z" fill="#bfe0a0" opacity="0.45"/><path d="M12.3,58.23C60.1,58.23 60.1,58.44 107.9,58.44L107.9,59.28C60.1,59.28 60.1,59.28 12.3,59.28Z" fill="#f9e54e" opacity="0.45"/><path d="M12.3,61.81C60.1,61.81 60.1,62.03 107.9,62.03L107.9,62.73C60.1,62.73 60.1,62.66 12.3,62.66Z" fill="#d4edfc" opacity="0.45"/><path d="M12.3,16.88C60.1,16.88 60.1,12.45 107.9,12.45" stroke="#d0d3ce" stroke-width="0.39" fill="none" opacity=".3"/><path d="M12.3,23.39C60.1,23.39 60.1,11.97 107.9,11.97" stroke="#93d0d4" stroke-width="0.44" fill="none" opacity=".3"/><path d="M12.3,28.21C60.1,28.21 60.1,12.84 107.9,12.84" stroke="#22838b" stroke-width="0.26" fill="none" opacity=".3"/><path d="M12.3,37.27C60.1,37.27 60.1,12.32 107.9,12.32" stroke="#b8826e" stroke-width="0.47" fill="none" opacity=".3"/><path d="M12.3,41.46C60.1,41.46 60.1,12.49 107.9,12.49" stroke="#f4a27a" stroke-width="0.32" fill="none" opacity=".3"/><path d="M12.3,47.52C60.1,47.52 60.1,12.52 107.9,12.52" stroke="#5f9b3c" stroke-width="0.59" fill="none" opacity=".3"/><path d="M12.3,54.26C60.1,54.26 60.1,13.23 107.9,13.23" stroke="#bfe0a0" stroke-width="0.31" fill="none" opacity=".3"/><path d="M12.3,59.20C60.1,59.20 60.1,12.35 107.9,12.35" stroke="#f9e54e" stroke-width="0.32" fill="none" opacity=".3"/><path d="M12.3,32.06C60.1,32.06 60.1,38.94 107.9,38.94" stroke="#22838b" stroke-width="0.25" fill="none" opacity=".3"/><path d="M12.3,28.82C60.1,28.82 60.1,55.47 107.9,55.47" stroke="#22838b" stroke-width="0.37" fill="none" opacity=".3"/><path d="M12.3,28.64C60.1,28.64 60.1,42.21 107.9,42.21" stroke="#22838b" stroke-width="0.26" fill="none" opacity=".3"/><path d="M12.3,31.18C60.1,31.18 60.1,50.79 107.9,50.79" stroke="#22838b" stroke-width="0.60" fill="none" opacity=".3"/><path d="M12.3,23.11C60.1,23.11 60.1,54.05 107.9,54.05" stroke="#93d0d4" stroke-width="0.36" fill="none" opacity=".3"/><path d="M12.3,23.40C60.1,23.40 60.1,44.12 107.9,44.12" stroke="#93d0d4" stroke-width="0.47" fill="none" opacity=".3"/><path d="M12.3,22.82C60.1,22.82 60.1,49.35 107.9,49.35" stroke="#93d0d4" stroke-width="0.42" fill="none" opacity=".3"/><path d="M12.3,18.41C60.1,18.41 60.1,29.25 107.9,29.25" stroke="#d0d3ce" stroke-width="0.58" fill="none" opacity=".3"/><path d="M12.3,19.43C60.1,19.43 60.1,42.57 107.9,42.57" stroke="#d0d3ce" stroke-width="0.35" fill="none" opacity=".3"/><path d="M12.3,19.35C60.1,19.35 60.1,48.56 107.9,48.56" stroke="#d0d3ce" stroke-width="0.58" fill="none" opacity=".3"/><path d="M12.3,48.25C60.1,48.25 60.1,32.27 107.9,32.27" stroke="#5f9b3c" stroke-width="0.50" fill="none" opacity=".3"/><path d="M12.3,11.99C60.1,11.99 60.1,54.55 107.9,54.55" stroke="#a3a59f" stroke-width="0.34" fill="none" opacity=".3"/><path d="M12.3,62.39C60.1,62.39 60.1,18.80 107.9,18.80" stroke="#d4edfc" stroke-width="0.30" fill="none" opacity=".3"/><path d="M12.3,62.56C60.1,62.56 60.1,43.17 107.9,43.17" stroke="#d4edfc" stroke-width="0.33" fill="none" opacity=".3"/><path d="M12.3,29.94C60.1,29.94 60.1,55.87 107.9,55.87" stroke="#22838b" stroke-width="0.45" fill="none" opacity=".3"/><path d="M12.3,48.60C60.1,48.60 60.1,19.56 107.9,19.56" stroke="#5f9b3c" stroke-width="0.59" fill="none" opacity=".3"/><path d="M12.3,42.95C60.1,42.95 60.1,17.87 107.9,17.87" stroke="#f4a27a" stroke-width="0.46" fill="none" opacity=".3"/><path d="M12.3,23.52C60.1,23.52 60.1,50.18 107.9,50.18" stroke="#93d0d4" stroke-width="0.45" fill="none" opacity=".3"/><rect x="7.81" y="11.81" width="4.5" height="0.84" fill="#a3a59f"/><rect x="107.95" y="11.81" width="4.5" height="1.48" fill="#a3a59f"/><rect x="7.81" y="16.03" width="4.5" height="3.80" fill="#d0d3ce"/><rect x="107.95" y="16.46" width="4.5" height="3.38" fill="#d0d3ce"/><rect x="7.81" y="22.57" width="4.5" height="1.05" fill="#93d0d4"/><rect x="107.95" y="22.78" width="4.5" height="1.05" fill="#93d0d4"/><rect x="7.81" y="27.00" width="4.5" height="6.75" fill="#22838b"/><rect x="107.95" y="27.43" width="4.5" height="6.96" fill="#22838b"/><rect x="7.81" y="36.92" width="4.5" height="1.27" fill="#b8826e"/><rect x="107.95" y="37.97" width="4.5" height="1.05" fill="#b8826e"/><rect x="7.81" y="41.35" width="4.5" height="2.11" fill="#f4a27a"/><rect x="107.95" y="54.01" width="4.5" height="1.90" fill="#f4a27a"/><rect x="7.81" y="46.62" width="4.5" height="3.16" fill="#5f9b3c"/><rect x="107.95" y="42.19" width="4.5" height="2.32" fill="#5f9b3c"/><rect x="7.81" y="52.74" width="4.5" height="3.16" fill="#bfe0a0"/><rect x="107.95" y="47.68" width="4.5" height="3.16" fill="#bfe0a0"/><rect x="7.81" y="58.23" width="4.5" height="1.05" fill="#f9e54e"/><rect x="107.95" y="58.44" width="4.5" height="0.84" fill="#f9e54e"/><rect x="7.81" y="61.81" width="4.5" height="0.84" fill="#d4edfc"/><rect x="107.95" y="62.03" width="4.5" height="0.80" fill="#d4edfc"/></svg>
<div class="hd" style="left:379.7px"><div class="t"><span class="sx" style="transform:scaleX(0.885)">Business as Usual</span></div></div>
<div class="desc" style="left:379.1px"><b>Business as usual</b> assumes<br>the continuing trends of the<br>last decades: The broader<br>society continues to have a<br>distorted view of the<br>biodiversity crisis lacking<br>comprehension of its reality<br>in Switzerland. Since EI is not<br>an issue in Swiss society,<br>people follow their current<br>value patterns by valuing<br>nature for providing NCPs but<br>without understanding the<br>underlying social-ecological<br>feedbacks.</div>
<div class="prm" style="left:379.8px">
<div class="row"><svg class="ic" viewBox="0 0 19 19"><g fill="#555"><rect x="7.9" y=".2" width="2.9" height="13" rx="1.45"/><circle cx="9.35" cy="14.3" r="3.4"/><rect x="11.2" y="2.2" width="3.5" height=".9"/><rect x="11.2" y="4.9" width="2.6" height=".9"/><rect x="11.2" y="7.5" width="3.5" height=".9"/><rect x="11.2" y="10.1" width="2.6" height=".9"/></g></svg><div class="tx"><span class="sx" style="transform:scaleX(.9)">RCP 4.5</span></div></div>
<div class="row"><svg class="ic" viewBox="0 0 19 19"><g fill="#555"><circle cx="4.3" cy="5.8" r="2.8"/><circle cx="14.5" cy="5.8" r="2.8"/><path d="M1.1 17V10.6Q1.1 8.9 2.8 8.9H4.6Q5.6 8.9 5.6 10V17Z"/><path d="M17.7 17V10.6Q17.7 8.9 16 8.9H14.2Q13.2 8.9 13.2 10V17Z"/><g stroke="#fff" stroke-width=".7"><circle cx="9.4" cy="5.6" r="3.15"/><path d="M6.1 18.1V10.4Q6.1 8.5 8 8.5H10.8Q12.7 8.5 12.7 10.4V18.1Z"/></g></g></svg><div class="tx"><span class="sx" style="transform:scaleX(.9)">Reference</span></div></div>
<div class="row"><svg class="ic" viewBox="0 0 19 19"><g fill="#555" stroke="#fff" stroke-width=".6"><ellipse cx="3.3" cy="15.40" rx="2.9" ry="1.25"/><ellipse cx="3.3" cy="13.60" rx="2.9" ry="1.25"/><ellipse cx="3.3" cy="11.80" rx="2.9" ry="1.25"/><ellipse cx="3.3" cy="10.00" rx="2.9" ry="1.25"/><ellipse cx="3.3" cy="8.20" rx="2.9" ry="1.25"/><ellipse cx="15.1" cy="15.35" rx="2.8" ry="1.2"/><ellipse cx="15.1" cy="13.60" rx="2.8" ry="1.2"/><ellipse cx="15.1" cy="11.85" rx="2.8" ry="1.2"/><ellipse cx="15.1" cy="10.10" rx="2.8" ry="1.2"/><ellipse cx="9.1" cy="15.10" rx="3.9" ry="1.55"/><ellipse cx="9.1" cy="13.00" rx="3.9" ry="1.55"/><ellipse cx="9.1" cy="10.90" rx="3.9" ry="1.55"/><ellipse cx="9.1" cy="8.80" rx="3.9" ry="1.55"/><ellipse cx="9.1" cy="6.70" rx="3.9" ry="1.55"/><ellipse cx="9.1" cy="4.60" rx="3.9" ry="1.55"/></g></svg><div class="tx"><span class="sx" style="transform:scaleX(.9)">Reference - Central</span></div></div>
<div class="row"><svg class="ic" viewBox="0 0 19 19"><path d="M9.2 4.9C11.8 7.6 13.3 9.6 13.3 11.6C13.3 13.6 11.7 14.9 9.7 15V17H8.7V15C6.7 14.9 5.1 13.6 5.1 11.6C5.1 9.6 6.6 7.6 9.2 4.9Z" fill="#555"/><g stroke="#555" stroke-width="1"><line x1="3.48" y1="13.70" x2="2.01" y2="14.55"/><line x1="2.60" y1="10.40" x2="0.90" y2="10.40"/><line x1="3.48" y1="7.10" x2="2.01" y2="6.25"/><line x1="5.90" y1="4.68" x2="5.05" y2="3.21"/><line x1="9.20" y1="3.80" x2="9.20" y2="2.10"/><line x1="12.50" y1="4.68" x2="13.35" y2="3.21"/><line x1="14.92" y1="7.10" x2="16.39" y2="6.25"/><line x1="15.80" y1="10.40" x2="17.50" y2="10.40"/><line x1="14.92" y1="13.70" x2="16.39" y2="14.55"/></g></svg><div class="tx"><span class="sx" style="transform:scaleX(.9)">mainly instrumental</span></div></div>
<div class="row"><svg class="ic" viewBox="0 0 19 19"><rect x="1.15" y="1.55" width="15.7" height="14.7" fill="none" stroke="#555" stroke-width="1.3" stroke-dasharray="1.5 1.64" stroke-dashoffset=".75"/><path d="M9.1 3.9C11.5 6.4 12.9 8.3 12.9 10.2C12.9 12 11.4 13.2 9.55 13.3V14.9H8.65V13.3C6.8 13.2 5.3 12 5.3 10.2C5.3 8.3 6.7 6.4 9.1 3.9Z" fill="#555"/></svg><div class="tx"><span class="sx" style="transform:scaleX(.9)">At current level, under II<br>and IV</span></div></div>
</div>
<div class="bar" style="left:380.90px;top:446.6px;height:17.3px;background:#a3a59f"></div>
<div class="bar" style="left:391.66px;top:459.9px;height:4.0px;background:#d0d3ce"></div>
<div class="bar" style="left:402.42px;top:463.9px;height:7.4px;background:#93d0d4"></div>
<div class="bar" style="left:413.18px;top:456.7px;height:7.2px;background:#22838b"></div>
<div class="bar" style="left:423.94px;top:463.9px;height:10.3px;background:#b8826e"></div>
<div class="bar" style="left:434.70px;top:463.9px;height:11.4px;background:#f4a27a"></div>
<div class="bar" style="left:445.46px;top:463.9px;height:3.4px;background:#5f9b3c"></div>
<div class="bar" style="left:456.22px;top:463.9px;height:1.9px;background:#bfe0a0"></div>
<div class="bar" style="left:466.98px;top:463.9px;height:6.1px;background:#f9e54e"></div>
<div class="bar" style="left:477.74px;top:463.9px;height:27.4px;background:#d4edfc"></div>
<div class="sq" style="left:383.20px;top:617.1px;background:#a3a59f"></div>
<div class="sq" style="left:394.54px;top:617.1px;background:#d0d3ce"></div>
<div class="sq" style="left:405.88px;top:617.1px;background:#93d0d4"></div>
<div class="sq" style="left:417.22px;top:617.1px;background:#22838b"></div>
<div class="sq" style="left:428.56px;top:617.1px;background:#b8826e"></div>
<div class="sq" style="left:439.90px;top:617.1px;background:#f4a27a"></div>
<div class="sq" style="left:451.24px;top:617.1px;background:#5f9b3c"></div>
<div class="sq" style="left:462.58px;top:617.1px;background:#bfe0a0"></div>
<div class="sq" style="left:473.92px;top:617.1px;background:#f9e54e"></div>
<div class="sq" style="left:428.40px;top:628.1px;background:#d4edfc"></div>
<svg class="abs" style="left:381.4px;top:526.3px;overflow:visible" width="104" height="66" viewBox="0 0 104 66"><use href="#chmap"/></svg>
<svg class="abs" style="left:373.1px;top:645px" width="121" height="78" viewBox="0 0 121 78"><path d="M12.3,11.81C60.1,11.81 60.1,11.81 107.9,11.81L107.9,13.29C60.1,13.29 60.1,12.66 12.3,12.66Z" fill="#a3a59f" opacity="0.45"/><path d="M12.3,16.03C60.1,16.03 60.1,16.46 107.9,16.46L107.9,19.83C60.1,19.83 60.1,19.83 12.3,19.83Z" fill="#d0d3ce" opacity="0.45"/><path d="M12.3,22.57C60.1,22.57 60.1,22.78 107.9,22.78L107.9,23.84C60.1,23.84 60.1,23.63 12.3,23.63Z" fill="#93d0d4" opacity="0.45"/><path d="M12.3,27.00C60.1,27.00 60.1,27.43 107.9,27.43L107.9,34.39C60.1,34.39 60.1,33.76 12.3,33.76Z" fill="#22838b" opacity="0.45"/><path d="M12.3,36.92C60.1,36.92 60.1,54.64 107.9,54.64L107.9,55.70C60.1,55.70 60.1,38.19 12.3,38.19Z" fill="#b8826e" opacity="0.45"/><path d="M12.3,41.35C60.1,41.35 60.1,37.55 107.9,37.55L107.9,39.24C60.1,39.24 60.1,43.46 12.3,43.46Z" fill="#f4a27a" opacity="0.45"/><path d="M12.3,46.62C60.1,46.62 60.1,42.62 107.9,42.62L107.9,44.94C60.1,44.94 60.1,49.79 12.3,49.79Z" fill="#5f9b3c" opacity="0.45"/><path d="M12.3,52.74C60.1,52.74 60.1,48.31 107.9,48.31L107.9,51.48C60.1,51.48 60.1,55.91 12.3,55.91Z" fill="#bfe0a0" opacity="0.45"/><path d="M12.3,58.23C60.1,58.23 60.1,58.44 107.9,58.44L107.9,59.28C60.1,59.28 60.1,59.28 12.3,59.28Z" fill="#f9e54e" opacity="0.45"/><path d="M12.3,61.81C60.1,61.81 60.1,62.03 107.9,62.03L107.9,62.73C60.1,62.73 60.1,62.66 12.3,62.66Z" fill="#d4edfc" opacity="0.45"/><path d="M12.3,18.46C60.1,18.46 60.1,12.05 107.9,12.05" stroke="#d0d3ce" stroke-width="0.39" fill="none" opacity=".3"/><path d="M12.3,23.49C60.1,23.49 60.1,13.12 107.9,13.12" stroke="#93d0d4" stroke-width="0.53" fill="none" opacity=".3"/><path d="M12.3,28.38C60.1,28.38 60.1,13.08 107.9,13.08" stroke="#22838b" stroke-width="0.38" fill="none" opacity=".3"/><path d="M12.3,37.83C60.1,37.83 60.1,12.02 107.9,12.02" stroke="#b8826e" stroke-width="0.59" fill="none" opacity=".3"/><path d="M12.3,42.62C60.1,42.62 60.1,12.88 107.9,12.88" stroke="#f4a27a" stroke-width="0.32" fill="none" opacity=".3"/><path d="M12.3,48.58C60.1,48.58 60.1,12.67 107.9,12.67" stroke="#5f9b3c" stroke-width="0.46" fill="none" opacity=".3"/><path d="M12.3,53.88C60.1,53.88 60.1,12.89 107.9,12.89" stroke="#bfe0a0" stroke-width="0.37" fill="none" opacity=".3"/><path d="M12.3,58.54C60.1,58.54 60.1,12.06 107.9,12.06" stroke="#f9e54e" stroke-width="0.49" fill="none" opacity=".3"/><path d="M12.3,27.76C60.1,27.76 60.1,54.88 107.9,54.88" stroke="#22838b" stroke-width="0.27" fill="none" opacity=".3"/><path d="M12.3,31.35C60.1,31.35 60.1,38.49 107.9,38.49" stroke="#22838b" stroke-width="0.44" fill="none" opacity=".3"/><path d="M12.3,27.27C60.1,27.27 60.1,43.64 107.9,43.64" stroke="#22838b" stroke-width="0.37" fill="none" opacity=".3"/><path d="M12.3,27.63C60.1,27.63 60.1,48.32 107.9,48.32" stroke="#22838b" stroke-width="0.60" fill="none" opacity=".3"/><path d="M12.3,22.70C60.1,22.70 60.1,38.06 107.9,38.06" stroke="#93d0d4" stroke-width="0.34" fill="none" opacity=".3"/><path d="M12.3,23.20C60.1,23.20 60.1,42.80 107.9,42.80" stroke="#93d0d4" stroke-width="0.41" fill="none" opacity=".3"/><path d="M12.3,22.96C60.1,22.96 60.1,50.95 107.9,50.95" stroke="#93d0d4" stroke-width="0.25" fill="none" opacity=".3"/><path d="M12.3,17.30C60.1,17.30 60.1,30.88 107.9,30.88" stroke="#d0d3ce" stroke-width="0.59" fill="none" opacity=".3"/><path d="M12.3,18.00C60.1,18.00 60.1,43.72 107.9,43.72" stroke="#d0d3ce" stroke-width="0.48" fill="none" opacity=".3"/><path d="M12.3,17.16C60.1,17.16 60.1,48.41 107.9,48.41" stroke="#d0d3ce" stroke-width="0.43" fill="none" opacity=".3"/><path d="M12.3,12.58C60.1,12.58 60.1,44.33 107.9,44.33" stroke="#a3a59f" stroke-width="0.34" fill="none" opacity=".3"/><path d="M12.3,12.39C60.1,12.39 60.1,33.34 107.9,33.34" stroke="#a3a59f" stroke-width="0.34" fill="none" opacity=".3"/><path d="M12.3,58.85C60.1,58.85 60.1,29.90 107.9,29.90" stroke="#f9e54e" stroke-width="0.34" fill="none" opacity=".3"/><path d="M12.3,53.65C60.1,53.65 60.1,17.14 107.9,17.14" stroke="#bfe0a0" stroke-width="0.37" fill="none" opacity=".3"/><path d="M12.3,61.85C60.1,61.85 60.1,30.19 107.9,30.19" stroke="#d4edfc" stroke-width="0.28" fill="none" opacity=".3"/><path d="M12.3,23.37C60.1,23.37 60.1,62.40 107.9,62.40" stroke="#93d0d4" stroke-width="0.25" fill="none" opacity=".3"/><path d="M12.3,49.07C60.1,49.07 60.1,48.91 107.9,48.91" stroke="#5f9b3c" stroke-width="0.42" fill="none" opacity=".3"/><path d="M12.3,58.81C60.1,58.81 60.1,49.37 107.9,49.37" stroke="#f9e54e" stroke-width="0.35" fill="none" opacity=".3"/><path d="M12.3,12.18C60.1,12.18 60.1,16.92 107.9,16.92" stroke="#a3a59f" stroke-width="0.55" fill="none" opacity=".3"/><path d="M12.3,16.46C60.1,16.46 60.1,38.94 107.9,38.94" stroke="#d0d3ce" stroke-width="0.33" fill="none" opacity=".3"/><rect x="7.81" y="11.81" width="4.5" height="0.84" fill="#a3a59f"/><rect x="107.95" y="11.81" width="4.5" height="1.48" fill="#a3a59f"/><rect x="7.81" y="16.03" width="4.5" height="3.80" fill="#d0d3ce"/><rect x="107.95" y="16.46" width="4.5" height="3.38" fill="#d0d3ce"/><rect x="7.81" y="22.57" width="4.5" height="1.05" fill="#93d0d4"/><rect x="107.95" y="22.78" width="4.5" height="1.05" fill="#93d0d4"/><rect x="7.81" y="27.00" width="4.5" height="6.75" fill="#22838b"/><rect x="107.95" y="27.43" width="4.5" height="6.96" fill="#22838b"/><rect x="7.81" y="36.92" width="4.5" height="1.27" fill="#b8826e"/><rect x="107.95" y="54.64" width="4.5" height="1.05" fill="#b8826e"/><rect x="7.81" y="41.35" width="4.5" height="2.11" fill="#f4a27a"/><rect x="107.95" y="37.55" width="4.5" height="1.69" fill="#f4a27a"/><rect x="7.81" y="46.62" width="4.5" height="3.16" fill="#5f9b3c"/><rect x="107.95" y="42.62" width="4.5" height="2.32" fill="#5f9b3c"/><rect x="7.81" y="52.74" width="4.5" height="3.16" fill="#bfe0a0"/><rect x="107.95" y="48.31" width="4.5" height="3.16" fill="#bfe0a0"/><rect x="7.81" y="58.23" width="4.5" height="1.05" fill="#f9e54e"/><rect x="107.95" y="58.44" width="4.5" height="0.84" fill="#f9e54e"/><rect x="7.81" y="61.81" width="4.5" height="0.84" fill="#d4edfc"/><rect x="107.95" y="62.03" width="4.5" height="0.80" fill="#d4edfc"/></svg>
<div class="hd" style="left:501.4px"><div class="t"><span class="sx" style="transform:scaleX(0.885)">Uncontrolled Growth</span></div></div>
<div class="desc" style="left:500.8px"><b>Uncontrolled Growth</b> follows<br>trends of drivers identified as<br>hindering for EI development:<br>There is a general mentality<br>of disinterest in the<br>biodiversity crisis and a lack<br>of cross-sectoral and cross-<br>cantonal cooperation, while<br>at the same time agricultural<br>practices that are detrimental<br>to biodiversity are increasing<br>and urban sprawl is growing.</div>
<div class="prm" style="left:501.5px">
<div class="row"><svg class="ic" viewBox="0 0 19 19"><g fill="#555"><rect x="7.9" y=".2" width="2.9" height="13" rx="1.45"/><circle cx="9.35" cy="14.3" r="3.4"/><rect x="11.2" y="2.2" width="3.5" height=".9"/><rect x="11.2" y="4.9" width="2.6" height=".9"/><rect x="11.2" y="7.5" width="3.5" height=".9"/><rect x="11.2" y="10.1" width="2.6" height=".9"/></g></svg><div class="tx"><span class="sx" style="transform:scaleX(.9)">RCP 8.5</span></div></div>
<div class="row"><svg class="ic" viewBox="0 0 19 19"><g fill="#555"><circle cx="4.3" cy="5.8" r="2.8"/><circle cx="14.5" cy="5.8" r="2.8"/><path d="M1.1 17V10.6Q1.1 8.9 2.8 8.9H4.6Q5.6 8.9 5.6 10V17Z"/><path d="M17.7 17V10.6Q17.7 8.9 16 8.9H14.2Q13.2 8.9 13.2 10V17Z"/><g stroke="#fff" stroke-width=".7"><circle cx="9.4" cy="5.6" r="3.15"/><path d="M6.1 18.1V10.4Q6.1 8.5 8 8.5H10.8Q12.7 8.5 12.7 10.4V18.1Z"/></g></g></svg><div class="tx"><span class="sx" style="transform:scaleX(.9)">High</span></div></div>
<div class="row"><svg class="ic" viewBox="0 0 19 19"><g fill="#555" stroke="#fff" stroke-width=".6"><ellipse cx="3.3" cy="15.40" rx="2.9" ry="1.25"/><ellipse cx="3.3" cy="13.60" rx="2.9" ry="1.25"/><ellipse cx="3.3" cy="11.80" rx="2.9" ry="1.25"/><ellipse cx="3.3" cy="10.00" rx="2.9" ry="1.25"/><ellipse cx="3.3" cy="8.20" rx="2.9" ry="1.25"/><ellipse cx="15.1" cy="15.35" rx="2.8" ry="1.2"/><ellipse cx="15.1" cy="13.60" rx="2.8" ry="1.2"/><ellipse cx="15.1" cy="11.85" rx="2.8" ry="1.2"/><ellipse cx="15.1" cy="10.10" rx="2.8" ry="1.2"/><ellipse cx="9.1" cy="15.10" rx="3.9" ry="1.55"/><ellipse cx="9.1" cy="13.00" rx="3.9" ry="1.55"/><ellipse cx="9.1" cy="10.90" rx="3.9" ry="1.55"/><ellipse cx="9.1" cy="8.80" rx="3.9" ry="1.55"/><ellipse cx="9.1" cy="6.70" rx="3.9" ry="1.55"/><ellipse cx="9.1" cy="4.60" rx="3.9" ry="1.55"/></g></svg><div class="tx"><span class="sx" style="transform:scaleX(.9)">Reference - Peri-<br>Urbanisation</span></div></div>
<div class="row"><svg class="ic" viewBox="0 0 19 19"><path d="M9.2 4.9C11.8 7.6 13.3 9.6 13.3 11.6C13.3 13.6 11.7 14.9 9.7 15V17H8.7V15C6.7 14.9 5.1 13.6 5.1 11.6C5.1 9.6 6.6 7.6 9.2 4.9Z" fill="#555"/><g stroke="#555" stroke-width="1"><line x1="3.48" y1="13.70" x2="2.01" y2="14.55"/><line x1="2.60" y1="10.40" x2="0.90" y2="10.40"/><line x1="3.48" y1="7.10" x2="2.01" y2="6.25"/><line x1="5.90" y1="4.68" x2="5.05" y2="3.21"/><line x1="9.20" y1="3.80" x2="9.20" y2="2.10"/><line x1="12.50" y1="4.68" x2="13.35" y2="3.21"/><line x1="14.92" y1="7.10" x2="16.39" y2="6.25"/><line x1="15.80" y1="10.40" x2="17.50" y2="10.40"/><line x1="14.92" y1="13.70" x2="16.39" y2="14.55"/></g></svg><div class="tx"><span class="sx" style="transform:scaleX(.9)">mainly instrumental</span></div></div>
<div class="row"><svg class="ic" viewBox="0 0 19 19"><rect x="1.15" y="1.55" width="15.7" height="14.7" fill="none" stroke="#555" stroke-width="1.3" stroke-dasharray="1.5 1.64" stroke-dashoffset=".75"/><path d="M9.1 3.9C11.5 6.4 12.9 8.3 12.9 10.2C12.9 12 11.4 13.2 9.55 13.3V14.9H8.65V13.3C6.8 13.2 5.3 12 5.3 10.2C5.3 8.3 6.7 6.4 9.1 3.9Z" fill="#555"/></svg><div class="tx"><span class="sx" style="transform:scaleX(.9)">At current level, without<br>strict management</span></div></div>
</div>
<div class="bar" style="left:502.60px;top:443.4px;height:20.5px;background:#a3a59f"></div>
<div class="bar" style="left:513.36px;top:458.8px;height:5.1px;background:#d0d3ce"></div>
<div class="bar" style="left:524.12px;top:463.9px;height:9.9px;background:#93d0d4"></div>
<div class="bar" style="left:534.88px;top:459.9px;height:4.0px;background:#22838b"></div>
<div class="bar" style="left:545.64px;top:463.9px;height:8.2px;background:#b8826e"></div>
<div class="bar" style="left:556.40px;top:463.9px;height:12.7px;background:#f4a27a"></div>
<div class="bar" style="left:567.16px;top:463.9px;height:4.9px;background:#5f9b3c"></div>
<div class="bar" style="left:577.92px;top:460.7px;height:3.2px;background:#bfe0a0"></div>
<div class="bar" style="left:588.68px;top:463.9px;height:4.9px;background:#f9e54e"></div>
<div class="bar" style="left:599.44px;top:463.9px;height:32.7px;background:#d4edfc"></div>
<div class="sq" style="left:504.90px;top:617.1px;background:#a3a59f"></div>
<div class="sq" style="left:516.24px;top:617.1px;background:#d0d3ce"></div>
<div class="sq" style="left:527.58px;top:617.1px;background:#93d0d4"></div>
<div class="sq" style="left:538.92px;top:617.1px;background:#22838b"></div>
<div class="sq" style="left:550.26px;top:617.1px;background:#b8826e"></div>
<div class="sq" style="left:561.60px;top:617.1px;background:#f4a27a"></div>
<div class="sq" style="left:572.94px;top:617.1px;background:#5f9b3c"></div>
<div class="sq" style="left:584.28px;top:617.1px;background:#bfe0a0"></div>
<div class="sq" style="left:595.62px;top:617.1px;background:#f9e54e"></div>
<div class="sq" style="left:550.10px;top:628.1px;background:#d4edfc"></div>
<svg class="abs" style="left:503.1px;top:526.3px;overflow:visible" width="104" height="66" viewBox="0 0 104 66"><use href="#chmap"/></svg>
<svg class="abs" style="left:494.8px;top:645px" width="121" height="78" viewBox="0 0 121 78"><path d="M12.3,11.81C60.1,11.81 60.1,11.81 107.9,11.81L107.9,13.50C60.1,13.50 60.1,12.66 12.3,12.66Z" fill="#a3a59f" opacity="0.45"/><path d="M12.3,16.03C60.1,16.03 60.1,16.46 107.9,16.46L107.9,20.04C60.1,20.04 60.1,19.83 12.3,19.83Z" fill="#d0d3ce" opacity="0.45"/><path d="M12.3,22.57C60.1,22.57 60.1,23.21 107.9,23.21L107.9,24.47C60.1,24.47 60.1,23.63 12.3,23.63Z" fill="#93d0d4" opacity="0.45"/><path d="M12.3,27.00C60.1,27.00 60.1,27.43 107.9,27.43L107.9,34.39C60.1,34.39 60.1,33.76 12.3,33.76Z" fill="#22838b" opacity="0.45"/><path d="M12.3,36.92C60.1,36.92 60.1,37.76 107.9,37.76L107.9,39.03C60.1,39.03 60.1,38.19 12.3,38.19Z" fill="#b8826e" opacity="0.45"/><path d="M12.3,41.35C60.1,41.35 60.1,42.19 107.9,42.19L107.9,43.88C60.1,43.88 60.1,43.46 12.3,43.46Z" fill="#f4a27a" opacity="0.45"/><path d="M12.3,46.62C60.1,46.62 60.1,46.84 107.9,46.84L107.9,49.79C60.1,49.79 60.1,49.79 12.3,49.79Z" fill="#5f9b3c" opacity="0.45"/><path d="M12.3,52.74C60.1,52.74 60.1,52.74 107.9,52.74L107.9,56.12C60.1,56.12 60.1,55.91 12.3,55.91Z" fill="#bfe0a0" opacity="0.45"/><path d="M12.3,58.23C60.1,58.23 60.1,58.44 107.9,58.44L107.9,59.70C60.1,59.70 60.1,59.28 12.3,59.28Z" fill="#f9e54e" opacity="0.45"/><path d="M12.3,61.81C60.1,61.81 60.1,62.03 107.9,62.03L107.9,62.73C60.1,62.73 60.1,62.66 12.3,62.66Z" fill="#d4edfc" opacity="0.45"/><path d="M12.3,17.01C60.1,17.01 60.1,12.48 107.9,12.48" stroke="#d0d3ce" stroke-width="0.41" fill="none" opacity=".3"/><path d="M12.3,23.22C60.1,23.22 60.1,12.64 107.9,12.64" stroke="#93d0d4" stroke-width="0.45" fill="none" opacity=".3"/><path d="M12.3,30.31C60.1,30.31 60.1,12.26 107.9,12.26" stroke="#22838b" stroke-width="0.40" fill="none" opacity=".3"/><path d="M12.3,37.96C60.1,37.96 60.1,12.50 107.9,12.50" stroke="#b8826e" stroke-width="0.60" fill="none" opacity=".3"/><path d="M12.3,41.39C60.1,41.39 60.1,13.01 107.9,13.01" stroke="#f4a27a" stroke-width="0.38" fill="none" opacity=".3"/><path d="M12.3,48.12C60.1,48.12 60.1,12.41 107.9,12.41" stroke="#5f9b3c" stroke-width="0.44" fill="none" opacity=".3"/><path d="M12.3,52.88C60.1,52.88 60.1,12.76 107.9,12.76" stroke="#bfe0a0" stroke-width="0.53" fill="none" opacity=".3"/><path d="M12.3,58.33C60.1,58.33 60.1,11.98 107.9,11.98" stroke="#f9e54e" stroke-width="0.32" fill="none" opacity=".3"/><path d="M12.3,27.17C60.1,27.17 60.1,37.76 107.9,37.76" stroke="#22838b" stroke-width="0.43" fill="none" opacity=".3"/><path d="M12.3,30.53C60.1,30.53 60.1,43.55 107.9,43.55" stroke="#22838b" stroke-width="0.60" fill="none" opacity=".3"/><path d="M12.3,27.77C60.1,27.77 60.1,49.66 107.9,49.66" stroke="#22838b" stroke-width="0.52" fill="none" opacity=".3"/><path d="M12.3,27.02C60.1,27.02 60.1,53.59 107.9,53.59" stroke="#22838b" stroke-width="0.43" fill="none" opacity=".3"/><path d="M12.3,22.77C60.1,22.77 60.1,42.54 107.9,42.54" stroke="#93d0d4" stroke-width="0.49" fill="none" opacity=".3"/><path d="M12.3,22.92C60.1,22.92 60.1,48.97 107.9,48.97" stroke="#93d0d4" stroke-width="0.56" fill="none" opacity=".3"/><path d="M12.3,22.61C60.1,22.61 60.1,55.85 107.9,55.85" stroke="#93d0d4" stroke-width="0.51" fill="none" opacity=".3"/><path d="M12.3,19.02C60.1,19.02 60.1,28.53 107.9,28.53" stroke="#d0d3ce" stroke-width="0.48" fill="none" opacity=".3"/><path d="M12.3,16.78C60.1,16.78 60.1,48.28 107.9,48.28" stroke="#d0d3ce" stroke-width="0.34" fill="none" opacity=".3"/><path d="M12.3,17.51C60.1,17.51 60.1,54.61 107.9,54.61" stroke="#d0d3ce" stroke-width="0.57" fill="none" opacity=".3"/><path d="M12.3,58.74C60.1,58.74 60.1,62.63 107.9,62.63" stroke="#f9e54e" stroke-width="0.26" fill="none" opacity=".3"/><path d="M12.3,54.78C60.1,54.78 60.1,42.92 107.9,42.92" stroke="#bfe0a0" stroke-width="0.52" fill="none" opacity=".3"/><path d="M12.3,37.03C60.1,37.03 60.1,33.05 107.9,33.05" stroke="#b8826e" stroke-width="0.30" fill="none" opacity=".3"/><path d="M12.3,52.92C60.1,52.92 60.1,24.38 107.9,24.38" stroke="#bfe0a0" stroke-width="0.32" fill="none" opacity=".3"/><path d="M12.3,62.23C60.1,62.23 60.1,42.41 107.9,42.41" stroke="#d4edfc" stroke-width="0.56" fill="none" opacity=".3"/><path d="M12.3,27.35C60.1,27.35 60.1,23.34 107.9,23.34" stroke="#22838b" stroke-width="0.50" fill="none" opacity=".3"/><path d="M12.3,62.27C60.1,62.27 60.1,30.34 107.9,30.34" stroke="#d4edfc" stroke-width="0.41" fill="none" opacity=".3"/><path d="M12.3,46.91C60.1,46.91 60.1,59.46 107.9,59.46" stroke="#5f9b3c" stroke-width="0.31" fill="none" opacity=".3"/><path d="M12.3,22.59C60.1,22.59 60.1,13.35 107.9,13.35" stroke="#93d0d4" stroke-width="0.59" fill="none" opacity=".3"/><path d="M12.3,19.30C60.1,19.30 60.1,49.26 107.9,49.26" stroke="#d0d3ce" stroke-width="0.60" fill="none" opacity=".3"/><path d="M12.3,23.20C60.1,23.20 60.1,43.58 107.9,43.58" stroke="#93d0d4" stroke-width="0.50" fill="none" opacity=".3"/><path d="M12.3,58.84C60.1,58.84 60.1,30.69 107.9,30.69" stroke="#f9e54e" stroke-width="0.59" fill="none" opacity=".3"/><path d="M12.3,17.26C60.1,17.26 60.1,23.30 107.9,23.30" stroke="#d0d3ce" stroke-width="0.38" fill="none" opacity=".3"/><path d="M12.3,55.89C60.1,55.89 60.1,62.43 107.9,62.43" stroke="#bfe0a0" stroke-width="0.48" fill="none" opacity=".3"/><path d="M12.3,43.09C60.1,43.09 60.1,38.93 107.9,38.93" stroke="#f4a27a" stroke-width="0.27" fill="none" opacity=".3"/><path d="M12.3,43.12C60.1,43.12 60.1,62.10 107.9,62.10" stroke="#f4a27a" stroke-width="0.27" fill="none" opacity=".3"/><path d="M12.3,54.79C60.1,54.79 60.1,58.66 107.9,58.66" stroke="#bfe0a0" stroke-width="0.25" fill="none" opacity=".3"/><path d="M12.3,48.77C60.1,48.77 60.1,37.82 107.9,37.82" stroke="#5f9b3c" stroke-width="0.59" fill="none" opacity=".3"/><path d="M12.3,38.04C60.1,38.04 60.1,12.07 107.9,12.07" stroke="#b8826e" stroke-width="0.56" fill="none" opacity=".3"/><path d="M12.3,48.11C60.1,48.11 60.1,24.30 107.9,24.30" stroke="#5f9b3c" stroke-width="0.50" fill="none" opacity=".3"/><path d="M12.3,11.83C60.1,11.83 60.1,16.75 107.9,16.75" stroke="#a3a59f" stroke-width="0.35" fill="none" opacity=".3"/><path d="M12.3,28.91C60.1,28.91 60.1,38.51 107.9,38.51" stroke="#22838b" stroke-width="0.43" fill="none" opacity=".3"/><rect x="7.81" y="11.81" width="4.5" height="0.84" fill="#a3a59f"/><rect x="107.95" y="11.81" width="4.5" height="1.69" fill="#a3a59f"/><rect x="7.81" y="16.03" width="4.5" height="3.80" fill="#d0d3ce"/><rect x="107.95" y="16.46" width="4.5" height="3.59" fill="#d0d3ce"/><rect x="7.81" y="22.57" width="4.5" height="1.05" fill="#93d0d4"/><rect x="107.95" y="23.21" width="4.5" height="1.27" fill="#93d0d4"/><rect x="7.81" y="27.00" width="4.5" height="6.75" fill="#22838b"/><rect x="107.95" y="27.43" width="4.5" height="6.96" fill="#22838b"/><rect x="7.81" y="36.92" width="4.5" height="1.27" fill="#b8826e"/><rect x="107.95" y="37.76" width="4.5" height="1.27" fill="#b8826e"/><rect x="7.81" y="41.35" width="4.5" height="2.11" fill="#f4a27a"/><rect x="107.95" y="42.19" width="4.5" height="1.69" fill="#f4a27a"/><rect x="7.81" y="46.62" width="4.5" height="3.16" fill="#5f9b3c"/><rect x="107.95" y="46.84" width="4.5" height="2.95" fill="#5f9b3c"/><rect x="7.81" y="52.74" width="4.5" height="3.16" fill="#bfe0a0"/><rect x="107.95" y="52.74" width="4.5" height="3.38" fill="#bfe0a0"/><rect x="7.81" y="58.23" width="4.5" height="1.05" fill="#f9e54e"/><rect x="107.95" y="58.44" width="4.5" height="1.27" fill="#f9e54e"/><rect x="7.81" y="61.81" width="4.5" height="0.84" fill="#d4edfc"/><rect x="107.95" y="62.03" width="4.5" height="0.80" fill="#d4edfc"/></svg>
</body></html>
